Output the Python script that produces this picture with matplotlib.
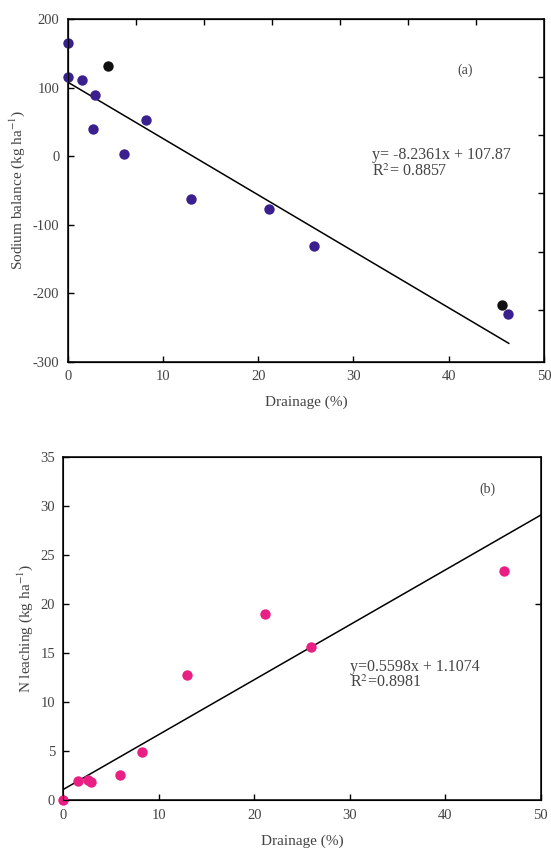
import matplotlib
matplotlib.use('Agg')
from matplotlib import pyplot
import numpy as np

pyplot.rcParams['font.family'] = ['Liberation Serif', 'DejaVu Serif']
pyplot.rcParams['mathtext.fontset'] = 'stix'
pyplot.rcParams['axes.unicode_minus'] = False

# (a) sodium balance vs drainage
na_drain = [0.0, 0.0, 1.5, 2.9, 2.65, 5.9, 8.2, 12.9, 21.1, 25.9, 46.2]
na_balance = [165, 115, 111, 89, 40, 2.5, 52, -63, -78, -131, -231]
na_drain_blk = [4.2, 45.6]
na_balance_blk = [131, -218]
na_slope, na_icpt = -8.2361, 107.87

# (b) N leaching vs drainage
n_drain = [0.0, 1.5, 2.6, 2.95, 5.95, 8.25, 12.95, 21.1, 25.9, 46.2]
n_leach = [0.0, 1.95, 2.05, 1.85, 2.6, 4.9, 12.8, 19.0, 15.6, 23.4]
n_slope, n_icpt = 0.5598, 1.1074

TXT = '#444444'
PURPLE = '#3a1f8e'
PINK = '#ea1f84'
MS = 56


def style_ax(ax):
    for s in ax.spines.values():
        s.set_linewidth(1.1)
    ax.tick_params(direction='in', length=4, width=1, labelsize=10.5,
                   labelcolor=TXT, pad=6)


fig = pyplot.figure(figsize=(5.51, 8.52), dpi=100)

# ---- panel (a)
ax1 = fig.add_axes([0.1229, 0.5757, 0.8644, 0.402])
ax1.scatter(na_drain, na_balance, s=MS, color=PURPLE, zorder=3, linewidths=0, clip_on=False)
ax1.scatter(na_drain_blk, na_balance_blk, s=MS, color='#111111', zorder=3, linewidths=0, clip_on=False)
xf = np.array([0, max(na_drain) + 0.1])
ax1.plot(xf, na_slope * xf + na_icpt, color='black', lw=1.1)
ax1.set_xlim(0, 50)
ax1.set_ylim(-300, 200)
ax1.set_xticks([0, 10, 20, 30, 40, 50])
ax1.set_yticks([-300, -200, -100, 0, 100, 200])
ax1.set_xlabel('Drainage (%)', fontsize=11, color=TXT, labelpad=9)
ax1.set_ylabel('Sodium balance (kg ha$^{-1}$)', fontsize=11, color=TXT, labelpad=4)
style_ax(ax1)
ax1.text(31.9, -35, 'y= -8.2361x + 107.87\nR$^2$= 0.8857', fontsize=11.5,
         color=TXT, linespacing=1.0, va='bottom')
ax1.text(41.7, 125, '(a)', fontsize=10, color=TXT, ha='center', va='center')
# secondary tick marks on top/right
tx = ax1.twiny()
tx.set_xlim(0, 7)
tx.set_xticks(range(1, 7))
tx.tick_params(direction='in', length=4, width=1, labeltop=False)
ty = ax1.twinx()
ty.set_ylim(5.89, 0)
ty.set_yticks(range(1, 6))
ty.tick_params(direction='in', length=4, width=1, labelright=False)

# ---- panel (b)
ax2 = fig.add_axes([0.1149, 0.0607, 0.8664, 0.4026])
ax2.scatter(n_drain, n_leach, s=MS, color=PINK, zorder=3, linewidths=0, clip_on=False)
xf = np.array([0, 50])
ax2.plot(xf, n_slope * xf + n_icpt, color='black', lw=1.1)
ax2.set_xlim(0, 50)
ax2.set_ylim(0, 35)
ax2.set_xticks([0, 10, 20, 30, 40, 50])
ax2.set_yticks([0, 5, 10, 15, 20, 25, 30, 35])
ax2.set_xlabel('Drainage (%)', fontsize=11, color=TXT, labelpad=9)
ax2.set_ylabel('N leaching (kg ha$^{-1}$)', fontsize=11, color=TXT, labelpad=4)
style_ax(ax2)
ax2.text(30.0, 11.1, 'y=0.5598x + 1.1074\nR$^2$=0.8981', fontsize=11.5,
         color=TXT, linespacing=1.0, va='bottom')
ax2.text(44.4, 31.7, '(b)', fontsize=10, color=TXT, ha='center', va='center')
ry = ax2.twinx()
ry.set_ylim(0, 35)
ry.set_yticks([20])
ry.tick_params(direction='in', length=4, width=1, labelright=False)

fig.savefig('out.png', dpi=100)
